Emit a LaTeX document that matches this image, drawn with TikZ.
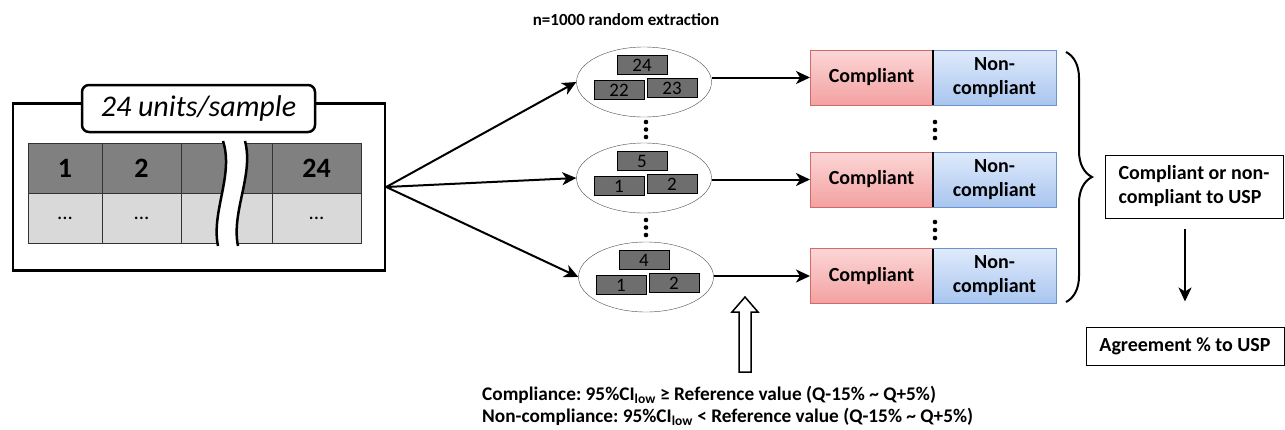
\documentclass[tikz,border=0pt]{standalone}
\usepackage{fontspec}
\setmainfont{Carlito}
\usetikzlibrary{positioning,shapes.geometric,arrows.meta,decorations.pathreplacing}
\definecolor{celldark}{HTML}{808080}
\definecolor{celllight}{HTML}{D9D9D9}
\definecolor{unitgray}{HTML}{6E6E6E}
\definecolor{passtop}{HTML}{FCD6D6}
\definecolor{passbot}{HTML}{F3A1A1}
\definecolor{passline}{HTML}{D26A6A}
\definecolor{failtop}{HTML}{DFEAFB}
\definecolor{failbot}{HTML}{A9C5EF}
\definecolor{failline}{HTML}{6A93D0}
\frenchspacing

\begin{document}
\begin{tikzpicture}[x=1pt, y=-1pt, >={Stealth[length=14pt,width=13pt,inset=4pt]},
	frame/.style={rectangle, draw=black, line width=2.5pt, minimum width=372pt, minimum height=167pt},
	tag/.style={rectangle, rounded corners=7pt, draw=black, fill=white, line width=2.5pt,
		minimum width=233pt, minimum height=47pt, font=\itshape\fontsize{30}{34}\selectfont},
	topcell/.style={rectangle, draw=black!80, fill=celldark, outer sep=0pt, minimum height=50pt,
		font=\bfseries\fontsize{28}{30}\selectfont},
	lowcell/.style={rectangle, draw=black!80, fill=celllight, outer sep=0pt, minimum height=50pt,
		font=\fontsize{21}{24}\selectfont},
	sampleset/.style={ellipse, draw=black!70, minimum width=135pt, minimum height=70pt},
	unit/.style={rectangle, draw=black, fill=unitgray, minimum width=50pt, minimum height=19pt,
		inner sep=0pt, font=\fontsize{19}{19}\selectfont},
	pass/.style={rectangle, draw=passline, top color=passtop, bottom color=passbot, outer sep=0pt,
		minimum width=123pt, minimum height=55pt, font=\bfseries\fontsize{20}{23}\selectfont},
	fail/.style={rectangle, draw=failline, top color=failtop, bottom color=failbot, outer sep=0pt,
		minimum width=123pt, minimum height=55pt, align=center, font=\bfseries\fontsize{20}{24}\selectfont},
	result/.style={rectangle, draw=black, line width=1pt, font=\bfseries\fontsize{20}{24}\selectfont},
	link/.style={line width=2pt}]
\useasboundingbox (0,0) rectangle (1285,429);

% sample of 24 units
\node[frame] (src) at (199,187) {};
\node[tag] (tag) at (198.5,108.5) {24 units/sample};
\node[topcell, minimum width=74pt] (t1) at (65,168) {1};
\node[topcell, minimum width=79pt, right=0pt of t1] (t2) {2};
\node[topcell, minimum width=91pt, right=0pt of t2] (t3) {};
\node[topcell, minimum width=89pt, right=0pt of t3] (t4) {24};
\node[lowcell, minimum width=74pt, below=0pt of t1] (b1) {...};
\node[lowcell, minimum width=79pt, below=0pt of t2] (b2) {...};
\node[lowcell, minimum width=91pt, below=0pt of t3] (b3) {};
\node[lowcell, minimum width=89pt, below=0pt of t4] (b4) {...};
\fill[white] (223,141) .. controls (234,175) and (211,212) .. (218,246) -- (238,246)
	.. controls (231,212) and (254,175) .. (245,141) -- cycle;
\draw[line width=2.5pt] (223,141) .. controls (234,175) and (211,212) .. (218,246);
\draw[line width=2.5pt] (245,141) .. controls (254,175) and (231,212) .. (238,246);

% random extractions
\node[font=\bfseries\fontsize{17}{20}\selectfont] (title) at (626,20) {n=1000 random extraction};
\node[sampleset] (e1) at (644,82) {};
\node[sampleset] (e2) at (644,178) {};
\node[sampleset] (e3) at (646,277) {};
\foreach \e/\a/\b/\c in {e1/24/22/23, e2/5/1/2, e3/4/1/2} {
	\node[unit] (\e-a) at ([shift={(-2,-17)}]\e.center) {\a};
	\node[unit] (\e-b) at ([shift={(-25,8)}]\e.center) {\b};
	\node[unit] (\e-c) at ([shift={(28,6)}]\e.center) {\c};
}
\foreach \y in {122,129.5,137,220,227.5,235}
	\fill (646,\y) circle (2.3pt);

% results per extraction
\foreach \i/\y in {1/77.5, 2/179.5, 3/276} {
	\node[pass] (cp\i) at (871.5,\y) {Compliant};
	\node[fail, right=0pt of cp\i] (nc\i) {Non-\\compliant};
	\draw[line width=2pt] (cp\i.north east) -- (cp\i.south east);
}
\foreach \y in {122,130,138,222,230,238}
	\fill (935,\y) circle (2.3pt);

\path[->, link] (src.east) edge (e1.west);
\path[->, link] (src.east) edge (e2.west);
\path[->, link] (src.east) edge (e3.west);
\path[->, link] (e1.east |- cp1.west) edge (cp1.west);
\path[->, link] (e2.east |- cp2.west) edge (cp2.west);
\path[->, link] (e3.east |- cp3.west) edge (cp3.west);

% summary
\draw[decorate, decoration={brace, amplitude=26pt}, line width=2pt] (1066,52) -- (1066,302);
\node[result, minimum width=178pt, minimum height=63pt, align=left] (usp) at (1194,186.5)
	{Compliant or non-\\compliant to USP};
\node[result, minimum width=198pt, minimum height=38pt] (agr) at (1185,346) {Agreement \% to USP};
\draw[->, link, shorten <=10pt, shorten >=25pt] (agr.north |- usp.south) -- (agr.north);

% criterion
\draw[line width=1.5pt, fill=white] (739,372) -- (751,372) -- (751,312) -- (758,312)
	-- (745,297) -- (732,312) -- (739,312) -- cycle;
\node[anchor=west, align=left, inner sep=0pt, font=\bfseries\fontsize{19.3}{22.5}\selectfont] (rule) at (482,406)
	{Compliance: 95\%CI\textsubscript{low} ≥ Reference value (Q-15\% \textasciitilde{} Q+5\%)\\
	 Non-compliance: 95\%CI\textsubscript{low} < Reference value (Q-15\% \textasciitilde{} Q+5\%)};
\end{tikzpicture}
\end{document}
